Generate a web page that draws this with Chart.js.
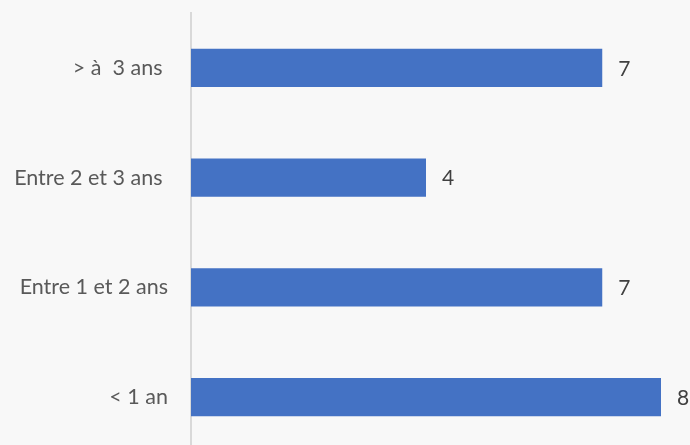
<!DOCTYPE html>
<html>
<head>
<meta charset="utf-8">
<script src="https://cdn.jsdelivr.net/npm/chart.js@4"></script>
<style>
  html, body { margin: 0; padding: 0; background: #f8f8f8; overflow: hidden; }
  #wrap { position: relative; width: 690px; height: 452px; }
</style>
</head>
<body>
<div id="wrap"><canvas id="chart"></canvas></div>
<script>
const categories = ['> à  3 ans ', 'Entre 2 et 3 ans ', 'Entre 1 et 2 ans', '< 1 an'];
const counts = [7, 4, 7, 8];

// draws the number to the right of each bar
const valueLabels = {
  id: 'valueLabels',
  afterDatasetsDraw(chart) {
    const ctx = chart.ctx;
    ctx.save();
    ctx.font = '21px Lato, sans-serif';
    ctx.fillStyle = '#404040';
    ctx.textAlign = 'left';
    ctx.textBaseline = 'middle';
    chart.getDatasetMeta(0).data.forEach((bar, i) => {
      ctx.fillText(String(counts[i]), bar.x + 16, bar.y + 1);
    });
    ctx.restore();
  }
};

window.onload = () => {
  new Chart(document.getElementById('chart'), {
    type: 'bar',
    data: {
      labels: categories,
      datasets: [{
        data: counts,
        backgroundColor: '#4472c4',
        barPercentage: 0.35,
        categoryPercentage: 1
      }]
    },
    options: {
      indexAxis: 'y',
      responsive: true,
      maintainAspectRatio: false,
      animation: false,
      layout: { padding: { top: 13, right: 29, bottom: 0, left: 0 } },
      plugins: { legend: { display: false }, tooltip: { enabled: false } },
      scales: {
        x: { display: false, min: 0, max: 8 },
        y: {
          grid: { display: false },
          border: { color: '#d9d9d9', width: 2 },
          ticks: {
            color: '#595959',
            padding: 15,
            font: { family: 'Lato, sans-serif', size: 21.5 }
          },
          afterFit(scale) {
            scale.width = 191;
            scale.paddingTop = 0;
            scale.paddingBottom = 0;
          }
        }
      }
    },
    plugins: [valueLabels]
  });
};
</script>
</body>
</html>
